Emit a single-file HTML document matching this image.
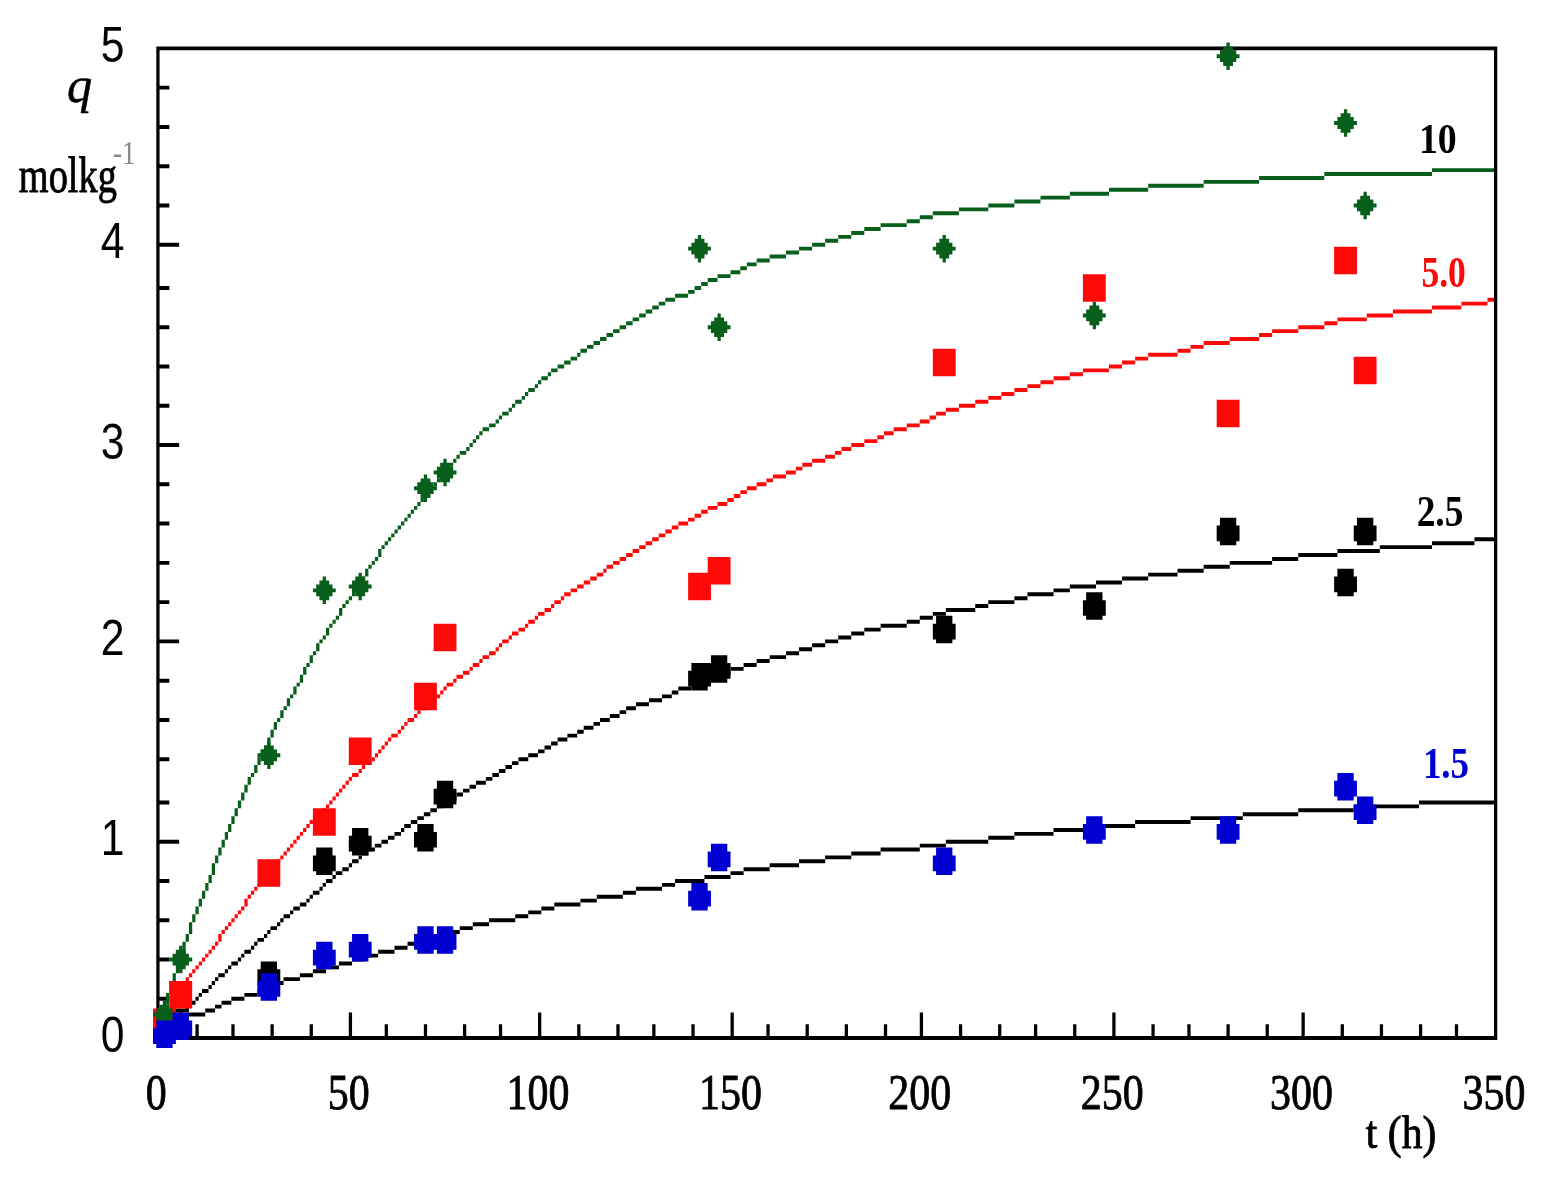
<!DOCTYPE html>
<html lang="en"><head><meta charset="utf-8"><title>q vs t</title>
<style>
html,body{margin:0;padding:0;background:#fff;}
svg{display:block;}
text{font-family:"Liberation Serif",serif;}
.ss{font-family:"Liberation Sans",sans-serif;}
</style></head>
<body>
<svg width="1541" height="1179" viewBox="0 0 1541 1179">
<rect width="1541" height="1179" fill="#fff"/>
<g transform="translate(156.3 46.4) scale(3.2627 3.9274)">
<path fill="#000" d="M0 0h411v1h-411zM0 1h1v9h-1zM410 1h1v251h-1zM0 10h4v1h-4zM0 11h1v9h-1zM0 20h4v1h-4zM0 21h1v9h-1zM0 30h4v1h-4zM0 31h1v9h-1zM0 40h4v1h-4zM0 41h1v9h-1zM0 50h7v1h-7zM0 51h1v10h-1zM0 61h4v1h-4zM0 62h1v9h-1zM0 71h4v1h-4zM0 72h1v9h-1zM0 81h4v1h-4zM0 82h1v9h-1zM0 91h4v1h-4zM0 92h1v9h-1zM0 101h7v1h-7zM0 102h1v9h-1zM0 111h4v1h-4zM0 112h1v9h-1zM0 121h4v1h-4zM0 122h1v9h-1zM0 131h4v1h-4zM0 132h1v9h-1zM0 141h4v1h-4zM0 142h1v9h-1zM0 151h7v1h-7zM0 152h1v9h-1zM0 161h4v1h-4zM0 162h1v9h-1zM0 171h4v1h-4zM0 172h1v9h-1zM0 181h4v1h-4zM0 182h1v10h-1zM0 192h4v1h-4zM0 193h1v9h-1zM0 202h7v1h-7zM0 203h1v9h-1zM0 212h4v1h-4zM0 213h1v9h-1zM0 222h4v1h-4zM0 223h1v9h-1zM0 232h4v1h-4zM0 233h1v9h-1zM0 242h4v1h-4zM0 243h1v9h-1zM59 246h1v6h-1zM117 246h1v6h-1zM176 246h1v6h-1zM234 246h1v6h-1zM293 246h1v6h-1zM351 246h1v6h-1zM12 249h1v3h-1zM23 249h1v3h-1zM35 249h1v3h-1zM47 249h1v3h-1zM70 249h1v3h-1zM82 249h1v3h-1zM94 249h1v3h-1zM105 249h1v3h-1zM129 249h1v3h-1zM141 249h1v3h-1zM152 249h1v3h-1zM164 249h1v3h-1zM187 249h1v3h-1zM199 249h1v3h-1zM211 249h1v3h-1zM223 249h1v3h-1zM246 249h1v3h-1zM258 249h1v3h-1zM269 249h1v3h-1zM281 249h1v3h-1zM305 249h1v3h-1zM316 249h1v3h-1zM328 249h1v3h-1zM340 249h1v3h-1zM363 249h1v3h-1zM375 249h1v3h-1zM387 249h1v3h-1zM398 249h1v3h-1zM0 252h411v1h-411z"/>
<path fill="#000" d="M404 125h6v1h-6zM391 126h13v1h-13zM375 127h16v1h-16zM362 128h13v1h-13zM350 129h12v1h-12zM342 130h8v1h-8zM329 131h13v1h-13zM321 132h8v1h-8zM313 133h8v1h-8zM304 134h9v1h-9zM296 135h8v1h-8zM288 136h8v1h-8zM280 137h8v1h-8zM275 138h5v1h-5zM267 139h8v1h-8zM263 140h4v1h-4zM255 141h8v1h-8zM251 142h4v1h-4zM242 143h9v1h-9zM238 144h4v1h-4zM234 145h4v1h-4zM230 146h4v1h-4zM222 147h8v1h-8zM217 148h5v1h-5zM213 149h4v1h-4zM209 150h4v1h-4zM205 151h4v1h-4zM201 152h4v1h-4zM197 153h4v1h-4zM193 154h4v1h-4zM188 155h5v1h-5zM184 156h4v1h-4zM180 157h4v1h-4zM176 158h4v1h-4zM172 159h4v1h-4zM169 160h3v1h-3zM167 161h2v1h-2zM164 162h3v1h-3zM160 163h4v1h-4zM158 164h2v1h-2zM155 165h3v1h-3zM151 166h4v1h-4zM147 167h4v1h-4zM144 168h3v1h-3zM142 169h2v1h-2zM139 170h3v1h-3zM136 171h3v1h-3zM134 172h2v1h-2zM131 173h3v1h-3zM129 174h2v1h-2zM126 175h3v1h-3zM123 176h3v1h-3zM121 177h2v1h-2zM119 178h2v1h-2zM117 179h2v1h-2zM114 180h3v1h-3zM111 181h3v1h-3zM109 182h2v1h-2zM107 183h2v1h-2zM105 184h2v1h-2zM103 185h2v1h-2zM101 186h2v1h-2zM98 187h3v1h-3zM96 188h2v1h-2zM94 189h2v1h-2zM92 190h2v1h-2zM90 191h2v1h-2zM88 192h2v1h-2zM387 192h23v1h-23zM86 193h2v1h-2zM367 193h20v1h-20zM84 194h2v1h-2zM350 194h17v1h-17zM82 195h2v1h-2zM333 195h17v1h-17zM80 196h2v1h-2zM317 196h16v1h-16zM78 197h2v1h-2zM300 197h17v1h-17zM76 198h2v1h-2zM288 198h12v1h-12zM75 199h1v1h-1zM275 199h13v1h-13zM73 200h2v1h-2zM263 200h12v1h-12zM71 201h2v1h-2zM255 201h8v1h-8zM69 202h2v1h-2zM242 202h13v1h-13zM67 203h2v1h-2zM234 203h8v1h-8zM65 204h2v1h-2zM222 204h12v1h-12zM63 205h2v1h-2zM213 205h9v1h-9zM62 206h1v1h-1zM205 206h8v1h-8zM60 207h2v1h-2zM197 207h8v1h-8zM59 208h1v1h-1zM188 208h9v1h-9zM57 209h2v1h-2zM180 209h8v1h-8zM55 210h2v1h-2zM176 210h4v1h-4zM54 211h1v1h-1zM168 211h8v1h-8zM52 212h2v1h-2zM159 212h9v1h-9zM51 213h1v1h-1zM155 213h4v1h-4zM50 214h1v1h-1zM147 214h8v1h-8zM48 215h2v1h-2zM143 215h4v1h-4zM47 216h1v1h-1zM135 216h8v1h-8zM46 217h1v1h-1zM130 217h5v1h-5zM44 218h2v1h-2zM122 218h8v1h-8zM42 219h2v1h-2zM118 219h4v1h-4zM41 220h1v1h-1zM114 220h4v1h-4zM39 221h2v1h-2zM110 221h4v1h-4zM38 222h1v1h-1zM102 222h8v1h-8zM37 223h1v1h-1zM97 223h5v1h-5zM35 224h2v1h-2zM93 224h4v1h-4zM34 225h1v1h-1zM89 225h4v1h-4zM33 226h1v1h-1zM85 226h4v1h-4zM31 227h2v1h-2zM81 227h4v1h-4zM30 228h1v1h-1zM77 228h4v1h-4zM29 229h1v1h-1zM73 229h4v1h-4zM27 230h2v1h-2zM68 230h5v1h-5zM26 231h1v1h-1zM64 231h4v1h-4zM25 232h1v1h-1zM60 232h4v1h-4zM23 233h2v1h-2zM56 233h4v1h-4zM22 234h1v1h-1zM52 234h4v1h-4zM21 235h1v1h-1zM48 235h4v1h-4zM19 236h2v1h-2zM44 236h4v1h-4zM18 237h1v1h-1zM39 237h5v1h-5zM17 238h1v1h-1zM36 238h3v1h-3zM16 239h1v1h-1zM34 239h2v1h-2zM14 240h2v1h-2zM31 240h3v1h-3zM13 241h1v1h-1zM27 241h4v1h-4zM12 242h1v1h-1zM23 242h4v1h-4zM10 243h2v1h-2zM20 243h3v1h-3zM9 244h1v1h-1zM18 244h2v1h-2zM4 245h6v1h-6zM15 245h3v1h-3zM7 246h1v1h-1zM10 246h5v1h-5zM6 247h1v1h-1zM5 248h1v1h-1zM4 249h1v1h-1zM2 250h2v1h-2zM1 251h1v1h-1z"/>
<path fill="#ff0808" d="M408 64h2v1h-2zM400 65h8v1h-8zM391 66h9v1h-9zM379 67h12v1h-12zM371 68h8v1h-8zM362 69h9v1h-9zM358 70h4v1h-4zM350 71h8v1h-8zM342 72h8v1h-8zM338 73h4v1h-4zM329 74h9v1h-9zM321 75h8v1h-8zM317 76h4v1h-4zM313 77h4v1h-4zM304 78h9v1h-9zM300 79h4v1h-4zM296 80h4v1h-4zM292 81h4v1h-4zM284 82h8v1h-8zM280 83h4v1h-4zM275 84h5v1h-5zM271 85h4v1h-4zM267 86h4v1h-4zM263 87h4v1h-4zM259 88h4v1h-4zM255 89h4v1h-4zM251 90h4v1h-4zM246 91h5v1h-5zM242 92h4v1h-4zM239 93h3v1h-3zM237 94h2v1h-2zM234 95h3v1h-3zM230 96h4v1h-4zM226 97h4v1h-4zM223 98h3v1h-3zM221 99h2v1h-2zM217 100h4v1h-4zM213 101h4v1h-4zM210 102h3v1h-3zM208 103h2v1h-2zM205 104h3v1h-3zM201 105h4v1h-4zM198 106h3v1h-3zM196 107h2v1h-2zM193 108h3v1h-3zM189 109h4v1h-4zM187 110h2v1h-2zM184 111h3v1h-3zM181 112h3v1h-3zM179 113h2v1h-2zM177 114h2v1h-2zM175 115h2v1h-2zM172 116h3v1h-3zM169 117h3v1h-3zM167 118h2v1h-2zM165 119h2v1h-2zM163 120h2v1h-2zM160 121h3v1h-3zM158 122h2v1h-2zM156 123h2v1h-2zM154 124h2v1h-2zM152 125h2v1h-2zM150 126h2v1h-2zM148 127h2v1h-2zM146 128h2v1h-2zM144 129h2v1h-2zM142 130h2v1h-2zM140 131h2v1h-2zM138 132h2v1h-2zM137 133h1v1h-1zM135 134h2v1h-2zM133 135h2v1h-2zM131 136h2v1h-2zM129 137h2v1h-2zM127 138h2v1h-2zM125 139h2v1h-2zM124 140h1v1h-1zM122 141h2v1h-2zM121 142h1v1h-1zM119 143h2v1h-2zM117 144h2v1h-2zM116 145h1v1h-1zM114 146h2v1h-2zM113 147h1v1h-1zM111 148h2v1h-2zM109 149h2v1h-2zM108 150h1v1h-1zM106 151h2v1h-2zM105 152h1v1h-1zM104 153h1v1h-1zM102 154h2v1h-2zM100 155h2v1h-2zM99 156h1v1h-1zM97 157h2v1h-2zM96 158h1v1h-1zM94 159h2v1h-2zM92 160h2v1h-2zM91 161h1v1h-1zM89 162h2v1h-2zM88 163h1v1h-1zM87 164h1v1h-1zM85 165h2v1h-2zM84 166h1v1h-1zM83 167h1v1h-1zM81 168h2v1h-2zM80 169h1v1h-1zM79 170h1v1h-1zM77 171h2v1h-2zM76 172h1v1h-1zM75 173h1v1h-1zM74 174h1v1h-1zM72 175h2v1h-2zM71 176h1v1h-1zM70 177h1v1h-1zM69 178h1v1h-1zM68 179h1v1h-1zM67 180h1v1h-1zM66 181h1v1h-1zM64 182h2v1h-2zM63 183h1v1h-1zM62 184h1v1h-1zM60 185h2v1h-2zM59 186h1v1h-1zM58 187h1v1h-1zM57 188h1v1h-1zM56 189h1v1h-1zM55 190h1v1h-1zM54 191h1v1h-1zM53 192h1v1h-1zM52 193h1v1h-1zM51 194h1v1h-1zM50 195h1v1h-1zM48 196h2v1h-2zM47 197h1v1h-1zM46 198h1v1h-1zM45 199h1v1h-1zM44 200h1v1h-1zM43 201h1v1h-1zM42 202h1v1h-1zM41 203h1v1h-1zM40 204h1v1h-1zM39 205h1v1h-1zM38 206h1v1h-1zM37 207h1v1h-1zM36 208h1v1h-1zM35 209h1v1h-1zM34 210h1v1h-1zM33 211h1v1h-1zM32 212h1v1h-1zM31 213h1v1h-1zM30 214h1v1h-1zM29 215h1v1h-1zM28 216h1v1h-1zM27 217h1v2h-1zM26 219h1v1h-1zM25 220h1v1h-1zM24 221h1v1h-1zM23 222h1v1h-1zM22 223h1v1h-1zM21 224h1v1h-1zM20 225h1v1h-1zM19 226h1v2h-1zM18 228h1v1h-1zM17 229h1v1h-1zM16 230h1v1h-1zM15 231h1v1h-1zM14 232h1v1h-1zM13 233h1v1h-1zM12 234h1v1h-1zM11 235h1v1h-1zM10 236h1v1h-1zM9 237h1v1h-1zM8 238h1v1h-1zM7 239h1v2h-1zM6 241h1v2h-1zM5 243h1v2h-1zM4 245h1v1h-1zM3 246h1v2h-1zM2 248h1v2h-1zM1 250h1v2h-1z"/>
<path fill="#075f1b" d="M391 31h19v1h-19zM358 32h33v1h-33zM338 33h20v1h-20zM321 34h17v1h-17zM304 35h17v1h-17zM292 36h12v1h-12zM280 37h12v1h-12zM271 38h9v1h-9zM263 39h8v1h-8zM255 40h8v1h-8zM246 41h9v1h-9zM238 42h8v1h-8zM234 43h4v1h-4zM230 44h4v1h-4zM222 45h8v1h-8zM217 46h5v1h-5zM213 47h4v1h-4zM209 48h4v1h-4zM205 49h4v1h-4zM201 50h4v1h-4zM197 51h4v1h-4zM193 52h4v1h-4zM188 53h5v1h-5zM184 54h4v1h-4zM181 55h3v1h-3zM179 56h2v1h-2zM176 57h3v1h-3zM172 58h4v1h-4zM169 59h3v1h-3zM167 60h2v1h-2zM165 61h2v1h-2zM163 62h2v1h-2zM159 63h4v1h-4zM156 64h3v1h-3zM154 65h2v1h-2zM152 66h2v1h-2zM150 67h2v1h-2zM148 68h2v1h-2zM146 69h2v1h-2zM144 70h2v1h-2zM142 71h2v1h-2zM140 72h2v1h-2zM138 73h2v1h-2zM136 74h2v1h-2zM134 75h2v1h-2zM132 76h2v1h-2zM130 77h2v1h-2zM129 78h1v1h-1zM127 79h2v1h-2zM125 80h2v1h-2zM123 81h2v1h-2zM121 82h2v1h-2zM120 83h1v1h-1zM118 84h2v1h-2zM117 85h1v1h-1zM116 86h1v1h-1zM114 87h2v1h-2zM113 88h1v1h-1zM112 89h1v1h-1zM110 90h2v1h-2zM109 91h1v1h-1zM108 92h1v1h-1zM106 93h2v1h-2zM105 94h1v1h-1zM104 95h1v1h-1zM102 96h2v1h-2zM100 97h2v1h-2zM99 98h1v1h-1zM98 99h1v1h-1zM97 100h1v1h-1zM96 101h1v1h-1zM95 102h1v1h-1zM93 103h2v1h-2zM92 104h1v1h-1zM91 105h1v1h-1zM90 106h1v1h-1zM89 107h1v1h-1zM88 108h1v1h-1zM87 109h1v1h-1zM86 110h1v1h-1zM85 111h1v1h-1zM84 112h1v1h-1zM83 113h1v1h-1zM82 114h1v1h-1zM81 115h1v1h-1zM80 116h1v1h-1zM79 117h1v1h-1zM78 118h1v1h-1zM77 119h1v1h-1zM76 120h1v1h-1zM75 121h1v1h-1zM74 122h1v1h-1zM73 123h1v1h-1zM72 124h1v1h-1zM71 125h1v1h-1zM70 126h1v1h-1zM69 127h1v1h-1zM68 128h1v2h-1zM67 130h1v1h-1zM66 131h1v1h-1zM65 132h1v1h-1zM64 133h1v2h-1zM63 135h1v1h-1zM62 136h1v1h-1zM61 137h1v1h-1zM60 138h1v2h-1zM59 140h1v1h-1zM58 141h1v1h-1zM57 142h1v1h-1zM56 143h1v2h-1zM55 145h1v1h-1zM54 146h1v1h-1zM53 147h1v1h-1zM52 148h1v2h-1zM51 150h1v1h-1zM50 151h1v1h-1zM49 152h1v2h-1zM48 154h1v1h-1zM47 155h1v2h-1zM46 157h1v1h-1zM45 158h1v2h-1zM44 160h1v2h-1zM43 162h1v1h-1zM42 163h1v2h-1zM41 165h1v1h-1zM40 166h1v2h-1zM39 168h1v1h-1zM38 169h1v2h-1zM37 171h1v1h-1zM36 172h1v2h-1zM35 174h1v2h-1zM34 176h1v2h-1zM33 178h1v1h-1zM32 179h1v2h-1zM31 181h1v2h-1zM30 183h1v2h-1zM29 185h1v1h-1zM28 186h1v2h-1zM27 188h1v2h-1zM26 190h1v2h-1zM25 192h1v2h-1zM24 194h1v2h-1zM23 196h1v2h-1zM22 198h1v2h-1zM21 200h1v2h-1zM20 202h1v2h-1zM19 204h1v2h-1zM18 206h1v2h-1zM17 208h1v3h-1zM16 211h1v2h-1zM15 213h1v2h-1zM14 215h1v2h-1zM13 217h1v2h-1zM12 219h1v2h-1zM11 221h1v2h-1zM10 223h1v3h-1zM9 226h1v2h-1zM8 228h1v3h-1zM7 231h1v2h-1zM6 233h1v3h-1zM5 236h1v2h-1zM4 238h1v3h-1zM3 241h1v3h-1zM2 244h1v4h-1zM1 248h1v3h-1z"/>
<path fill="#ff0808" d="M-1 245h7v7h-7zM4 238h7v7h-7zM31 207h7v7h-7zM48 194h7v7h-7zM59 176h7v7h-7zM79 162h7v7h-7zM85 147h7v7h-7zM163 134h7v7h-7zM169 130h7v7h-7zM238 77h7v7h-7zM284 58h7v7h-7zM325 90h7v7h-7zM361 51h7v7h-7zM367 79h7v7h-7z"/>
<path fill="#075f1b" d="M2 243h1v1h-1zM1 244h3v1h-3zM0 245h5v1h-5zM-1 246h7v1h-7zM0 247h5v1h-5zM1 248h3v1h-3zM2 249h1v1h-1zM7 229h1v1h-1zM6 230h3v1h-3zM5 231h5v1h-5zM4 232h7v1h-7zM5 233h5v1h-5zM6 234h3v1h-3zM7 235h1v1h-1zM34 177h1v1h-1zM33 178h3v1h-3zM32 179h5v1h-5zM31 180h7v1h-7zM32 181h5v1h-5zM33 182h3v1h-3zM34 183h1v1h-1zM51 135h1v1h-1zM50 136h3v1h-3zM49 137h5v1h-5zM48 138h7v1h-7zM49 139h5v1h-5zM50 140h3v1h-3zM51 141h1v1h-1zM62 134h1v1h-1zM61 135h3v1h-3zM60 136h5v1h-5zM59 137h7v1h-7zM60 138h5v1h-5zM61 139h3v1h-3zM62 140h1v1h-1zM82 109h1v1h-1zM81 110h3v1h-3zM80 111h5v1h-5zM79 112h7v1h-7zM80 113h5v1h-5zM81 114h3v1h-3zM82 115h1v1h-1zM88 105h1v1h-1zM87 106h3v1h-3zM86 107h5v1h-5zM85 108h7v1h-7zM86 109h5v1h-5zM87 110h3v1h-3zM88 111h1v1h-1zM166 48h1v1h-1zM165 49h3v1h-3zM164 50h5v1h-5zM163 51h7v1h-7zM164 52h5v1h-5zM165 53h3v1h-3zM166 54h1v1h-1zM172 68h1v1h-1zM171 69h3v1h-3zM170 70h5v1h-5zM169 71h7v1h-7zM170 72h5v1h-5zM171 73h3v1h-3zM172 74h1v1h-1zM241 48h1v1h-1zM240 49h3v1h-3zM239 50h5v1h-5zM238 51h7v1h-7zM239 52h5v1h-5zM240 53h3v1h-3zM241 54h1v1h-1zM287 65h1v1h-1zM286 66h3v1h-3zM285 67h5v1h-5zM284 68h7v1h-7zM285 69h5v1h-5zM286 70h3v1h-3zM287 71h1v1h-1zM328 -1h1v1h-1zM327 0h3v1h-3zM326 1h5v1h-5zM325 2h7v1h-7zM326 3h5v1h-5zM327 4h3v1h-3zM328 5h1v1h-1zM364 16h1v1h-1zM363 17h3v1h-3zM362 18h5v1h-5zM361 19h7v1h-7zM362 20h5v1h-5zM363 21h3v1h-3zM364 22h1v1h-1zM370 37h1v1h-1zM369 38h3v1h-3zM368 39h5v1h-5zM367 40h7v1h-7zM368 41h5v1h-5zM369 42h3v1h-3zM370 43h1v1h-1z"/>
<path fill="#000" d="M32 233h5v2h-5zM31 235h7v4h-7zM32 239h5v1h-5zM49 204h5v2h-5zM48 206h7v4h-7zM49 210h5v1h-5zM60 199h5v2h-5zM59 201h7v4h-7zM60 205h5v1h-5zM80 198h5v2h-5zM79 200h7v4h-7zM80 204h5v1h-5zM86 187h5v2h-5zM85 189h7v4h-7zM86 193h5v1h-5zM164 157h5v2h-5zM163 159h7v4h-7zM164 163h5v1h-5zM170 155h5v2h-5zM169 157h7v4h-7zM170 161h5v1h-5zM239 145h5v2h-5zM238 147h7v4h-7zM239 151h5v1h-5zM285 139h5v2h-5zM284 141h7v4h-7zM285 145h5v1h-5zM326 120h5v2h-5zM325 122h7v4h-7zM326 126h5v1h-5zM362 133h5v2h-5zM361 135h7v4h-7zM362 139h5v1h-5zM368 120h5v2h-5zM367 122h7v4h-7zM368 126h5v1h-5z"/>
<path fill="#0000d2" d="M0 248h5v2h-5zM-1 250h7v4h-7zM0 254h5v1h-5zM5 246h5v2h-5zM4 248h7v4h-7zM5 252h5v1h-5zM32 236h5v2h-5zM31 238h7v4h-7zM32 242h5v1h-5zM49 228h5v2h-5zM48 230h7v4h-7zM49 234h5v1h-5zM60 226h5v2h-5zM59 228h7v4h-7zM60 232h5v1h-5zM80 224h5v2h-5zM79 226h7v4h-7zM80 230h5v1h-5zM86 224h5v2h-5zM85 226h7v4h-7zM86 230h5v1h-5zM164 213h5v2h-5zM163 215h7v4h-7zM164 219h5v1h-5zM170 203h5v2h-5zM169 205h7v4h-7zM170 209h5v1h-5zM239 204h5v2h-5zM238 206h7v4h-7zM239 210h5v1h-5zM285 196h5v2h-5zM284 198h7v4h-7zM285 202h5v1h-5zM326 196h5v2h-5zM325 198h7v4h-7zM326 202h5v1h-5zM362 185h5v2h-5zM361 187h7v4h-7zM362 191h5v1h-5zM368 191h5v2h-5zM367 193h7v4h-7zM368 197h5v1h-5z"/>
</g>
<text class="ss" transform="translate(112.6 1051.81) scale(0.840 1)" font-size="50.76" text-anchor="middle" fill="#000">0</text>
<text class="ss" transform="translate(112.6 855.44) scale(0.840 1)" font-size="50.76" text-anchor="middle" fill="#000">1</text>
<text class="ss" transform="translate(112.6 655.15) scale(0.840 1)" font-size="50.76" text-anchor="middle" fill="#000">2</text>
<text class="ss" transform="translate(112.6 458.78) scale(0.840 1)" font-size="50.76" text-anchor="middle" fill="#000">3</text>
<text class="ss" transform="translate(112.6 258.48) scale(0.840 1)" font-size="50.76" text-anchor="middle" fill="#000">4</text>
<text class="ss" transform="translate(112.6 62.11) scale(0.840 1)" font-size="50.76" text-anchor="middle" fill="#000">5</text>
<text transform="translate(156.3 1109) scale(0.814 1)" font-size="51.54" text-anchor="middle" fill="#000" stroke="#000" stroke-width="0.9" stroke-linejoin="round">0</text>
<text transform="translate(348.8 1109) scale(0.814 1)" font-size="51.54" text-anchor="middle" fill="#000" stroke="#000" stroke-width="0.9" stroke-linejoin="round">50</text>
<text transform="translate(538.04 1109) scale(0.814 1)" font-size="51.54" text-anchor="middle" fill="#000" stroke="#000" stroke-width="0.9" stroke-linejoin="round">100</text>
<text transform="translate(730.54 1109) scale(0.814 1)" font-size="51.54" text-anchor="middle" fill="#000" stroke="#000" stroke-width="0.9" stroke-linejoin="round">150</text>
<text transform="translate(919.77 1109) scale(0.814 1)" font-size="51.54" text-anchor="middle" fill="#000" stroke="#000" stroke-width="0.9" stroke-linejoin="round">200</text>
<text transform="translate(1112.27 1109) scale(0.814 1)" font-size="51.54" text-anchor="middle" fill="#000" stroke="#000" stroke-width="0.9" stroke-linejoin="round">250</text>
<text transform="translate(1301.51 1109) scale(0.814 1)" font-size="51.54" text-anchor="middle" fill="#000" stroke="#000" stroke-width="0.9" stroke-linejoin="round">300</text>
<text transform="translate(1494.01 1109) scale(0.814 1)" font-size="51.54" text-anchor="middle" fill="#000" stroke="#000" stroke-width="0.9" stroke-linejoin="round">350</text>
<text transform="translate(1365.85 1147.7) scale(0.908 1)" font-size="45.85" text-anchor="start" fill="#000" stroke="#000" stroke-width="0.9" stroke-linejoin="round">t (h)</text>
<text transform="translate(67 102.2) scale(0.978 1)" font-size="51.47" text-anchor="start" fill="#000" font-style="italic" stroke="#000" stroke-width="0.5" stroke-linejoin="round">q</text>
<text transform="translate(18.8 192.35) scale(0.748 1)" font-size="51.3" text-anchor="start" fill="#000" stroke="#000" stroke-width="0.9" stroke-linejoin="round">molkg</text>
<text transform="translate(112.95 163.65) scale(0.784 1)" font-size="34.7" text-anchor="start" fill="#8a8a8a">-1</text>
<text transform="translate(1418.95 152.9) scale(0.917 1)" font-size="41.27" text-anchor="start" fill="#000" font-weight="bold">10</text>
<text transform="translate(1421.4 286.65) scale(0.818 1)" font-size="43.44" text-anchor="start" fill="#ff0808" font-weight="bold">5.0</text>
<text transform="translate(1416.65 526.45) scale(0.862 1)" font-size="43.44" text-anchor="start" fill="#000" font-weight="bold">2.5</text>
<text transform="translate(1422.9 777.55) scale(0.851 1)" font-size="43.43" text-anchor="start" fill="#0000d2" font-weight="bold">1.5</text>
</svg>
</body></html>
